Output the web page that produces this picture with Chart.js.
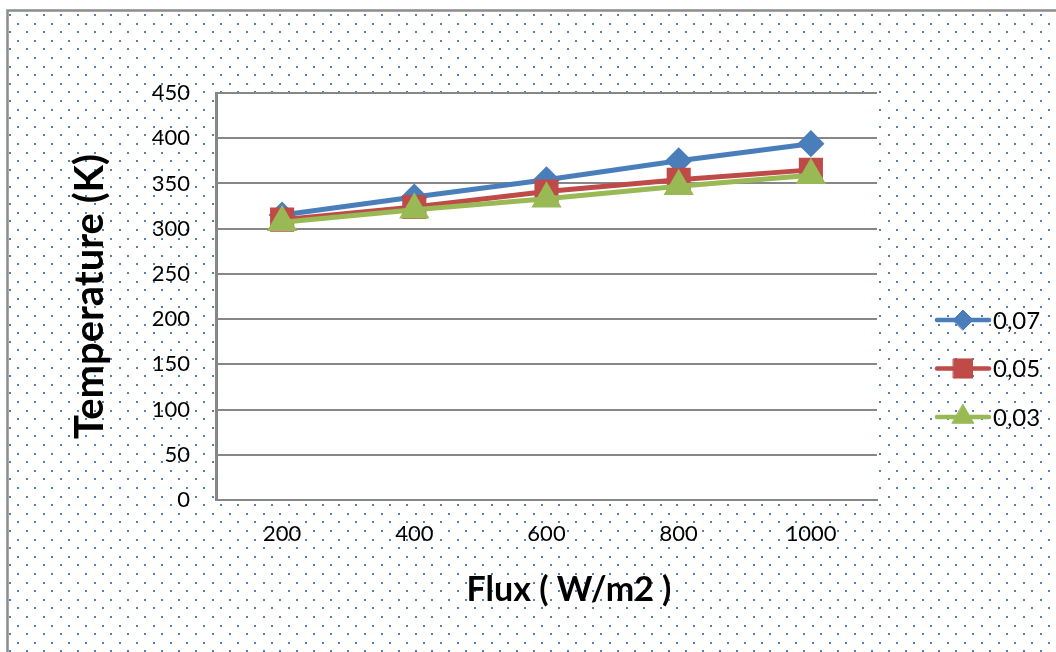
<!DOCTYPE html>
<html>
<head>
<meta charset="utf-8">
<title>Temperature vs Flux</title>
<script src="https://cdn.jsdelivr.net/npm/chart.js@4.4.1/dist/chart.umd.min.js"></script>
<style>
  html, body { margin: 0; padding: 0; background: #fff; }
  #wrap { width: 1056px; height: 652px; }
</style>
</head>
<body>
<div id="wrap"><canvas id="tempChart" width="1056" height="652"></canvas></div>
<script>
const fluxLabels = ["200", "400", "600", "800", "1000"];
const seriesNames = ["0,07", "0,05", "0,03"];
const temp007 = [315, 335, 354, 375, 394];
const temp005 = [310, 324, 341, 354, 365];
const temp003 = [307, 321, 333, 347, 359];
const xTitle = "Flux ( W/m2 )";
const yTitle = "Temperature (K)";

const FONT = "Lato, 'Open Sans', sans-serif";

// dotted pattern background + border + white plot area
const backgroundPlugin = {
  id: "bgPattern",
  beforeDraw(chart) {
    const ctx = chart.ctx;
    const { width, height } = chart;
    const area = chart.chartArea;
    ctx.save();
    ctx.fillStyle = "#fff";
    ctx.fillRect(0, 0, width, height);
    ctx.fillStyle = "#4f81bd";
    let row = 0;
    for (let y = 15; y < height; y += 8.6) {
      const start = row % 2 === 0 ? 10 : 18.4;
      for (let x = start; x < width; x += 16.9) {
        ctx.fillRect(Math.round(x) - 1, Math.round(y) - 1, 2, 2);
      }
      row++;
    }
    ctx.strokeStyle = "#8c8c8c";
    ctx.lineWidth = 2.5;
    ctx.beginPath();
    ctx.moveTo(7.5, height);
    ctx.lineTo(7.5, 10.5);
    ctx.lineTo(width, 10.5);
    ctx.stroke();
    ctx.fillStyle = "#fff";
    ctx.fillRect(area.left, area.top, area.right - area.left, area.bottom - area.top);
    ctx.restore();
  }
};

// Excel-like legend (line with marker) and the x axis title
const lineLegend = {
  id: "lineLegend",
  afterDraw(chart) {
    const ctx = chart.ctx;
    ctx.save();
    chart.data.datasets.forEach((ds, i) => {
      const y = 320 + i * 48.5;
      ctx.strokeStyle = ds.borderColor;
      ctx.lineWidth = 4.5;
      ctx.lineCap = "round";
      ctx.beginPath();
      ctx.moveTo(937, y);
      ctx.lineTo(989, y);
      ctx.stroke();
      ctx.fillStyle = ds.pointBackgroundColor;
      ctx.strokeStyle = ds.borderColor;
      ctx.lineWidth = 1;
      Chart.helpers.drawPoint(ctx, {
        pointStyle: ds.pointStyle,
        radius: ds.pointRadius,
        rotation: 0,
        borderWidth: 1
      }, 963, y);
      ctx.fillStyle = "#000";
      ctx.font = "24px " + FONT;
      ctx.textBaseline = "middle";
      ctx.textAlign = "left";
      ctx.fillText(ds.label, 993, y + 1);
    });
    ctx.font = "bold 34px " + FONT;
    ctx.textAlign = "center";
    ctx.textBaseline = "middle";
    ctx.fillText(xTitle, 569, 590);
    ctx.restore();
  }
};

const ctx = document.getElementById("tempChart").getContext("2d");
const tempChart = new Chart(ctx, {
  type: "line",
  data: {
    labels: fluxLabels,
    datasets: [
      {
        label: seriesNames[0],
        data: temp007,
        order: 3,
        borderColor: "#4a7ebb",
        backgroundColor: "#4a7ebb",
        pointBackgroundColor: "#4a7ebb",
        pointStyle: "rectRot",
        pointRadius: 10,
        borderWidth: 5
      },
      {
        label: seriesNames[1],
        data: temp005,
        order: 2,
        borderColor: "#be4b48",
        backgroundColor: "#be4b48",
        pointBackgroundColor: "#be4b48",
        pointStyle: "rect",
        pointRadius: 13.5,
        borderWidth: 5
      },
      {
        label: seriesNames[2],
        data: temp003,
        order: 1,
        borderColor: "#98b954",
        backgroundColor: "#98b954",
        pointBackgroundColor: "#98b954",
        pointStyle: "triangle",
        pointRadius: 12.5,
        borderWidth: 5
      }
    ]
  },
  options: {
    responsive: false,
    animation: false,
    layout: { padding: { left: 0, right: 179, top: 93, bottom: 0 } },
    elements: { line: { tension: 0 }, point: { borderWidth: 1 } },
    plugins: { legend: { display: false }, tooltip: { enabled: false } },
    scales: {
      x: {
        offset: true,
        grid: { display: false, drawTicks: false },
        border: { color: "#878787", width: 2 },
        ticks: { color: "#000", font: { family: FONT, size: 22 }, padding: 21 },
        afterFit(scale) { scale.height = 152; }
      },
      y: {
        min: 0,
        max: 450,
        ticks: { stepSize: 50, color: "#000", font: { family: FONT, size: 22 }, padding: 26 },
        grid: { color: "#878787", lineWidth: 2, drawTicks: false },
        border: { color: "#878787", width: 3 },
        title: {
          display: true,
          text: yTitle,
          color: "#000",
          font: { family: FONT, size: 40, weight: "bold" },
          padding: { top: 66, bottom: 0 }
        },
        afterFit(scale) { scale.width = 216; }
      }
    }
  },
  plugins: [backgroundPlugin, lineLegend]
});
</script>
</body>
</html>
